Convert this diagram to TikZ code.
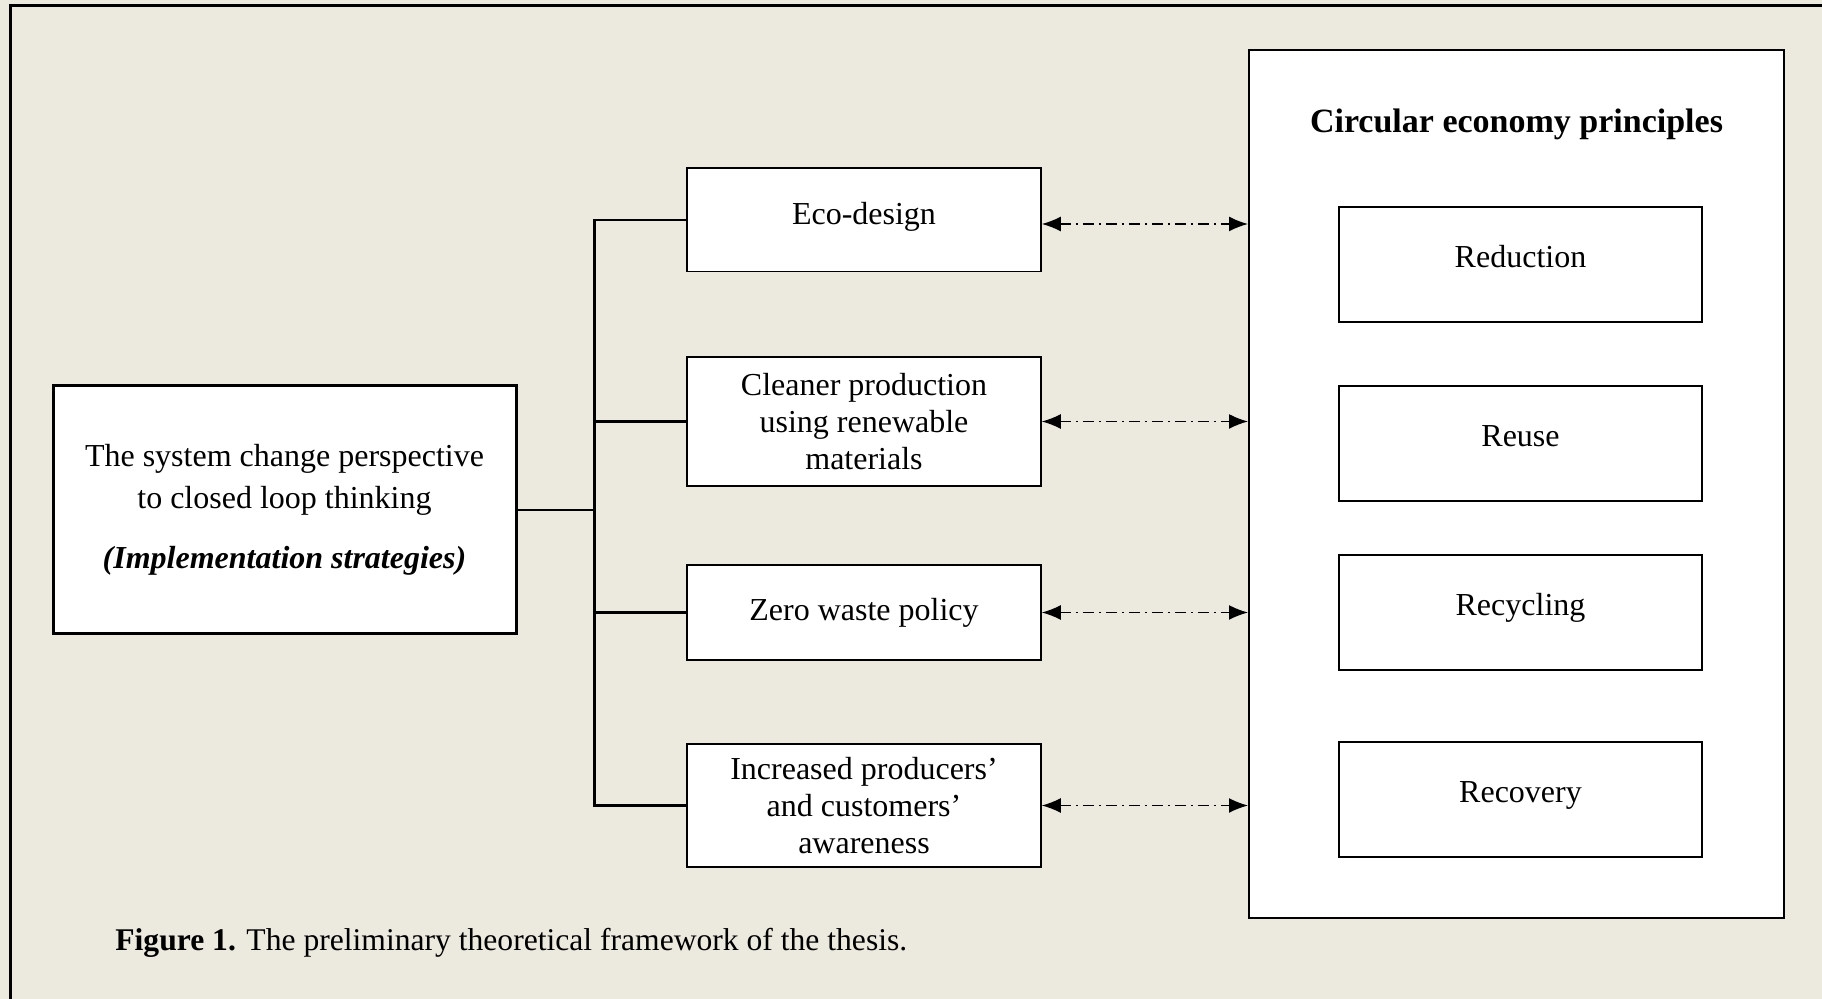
\documentclass[tikz,border=0pt]{standalone}
\usepackage{fontspec}
\setmainfont{Liberation Serif}
\usepackage{xcolor}
\usetikzlibrary{calc,arrows.meta,positioning}
\definecolor{paper}{RGB}{236,233,223}

\begin{document}
\begin{tikzpicture}[x=0.5pt,y=-0.5pt,
		box/.style={draw=black,fill=white,line width=0.75pt,align=center,inner sep=0pt,font=\fontsize{16}{18.5}\selectfont},
		midbox/.style={box,minimum width=177pt},
		cebox/.style={box,minimum width=181.5pt,minimum height=57.5pt,text height=11pt,text depth=8pt},
		link/.style={line width=1.1pt},
		dual/.style={{Latex[length=9.5pt,width=7.5pt]}-{Latex[length=9.5pt,width=7.5pt]},line width=0.8pt,dash pattern=on 5.5pt off 2.5pt on 1pt off 2.5pt}]
		\useasboundingbox (0,0) rectangle (1822,999);
		\fill[paper] (0,0) rectangle (1822,999);
		\draw[line width=1.5pt] (10,999) -- (10,6) -- (1822,6);
		\node[box,line width=1.5pt,minimum width=231.5pt,minimum height=124pt,font=\fontsize{16}{21}\selectfont] (strategy) at (284.5,510) {The system change perspective\\to closed loop thinking\\[9pt]\textbf{\textit{(Implementation strategies)}}};
		\node[midbox,minimum height=51.75pt,text height=11pt,text depth=6pt] (ecodesign) at (864,220) {Eco-design};
		\node[midbox,minimum height=64.5pt] (cleaner) at (864,421.5) {Cleaner production\\using renewable\\materials};
		\node[midbox,minimum height=47.5pt] (zerowaste) at (864,612.5) {Zero waste policy};
		\node[midbox,minimum height=61.5pt] (awareness) at (864,805.5) {Increased producers'\\and customers'\\awareness};
		\node[draw=black,fill=white,line width=1pt,minimum width=267.5pt,minimum height=434pt,inner sep=0pt] (principles) at (1516.5,484) {};
		\node[font=\fontsize{17}{20}\selectfont\bfseries] (title) at (1516.5,124) {Circular economy principles};
		\node[cebox] (reduction) at (1520.5,264.5) {Reduction};
		\node[cebox] (reuse) at (1520.5,443.5) {Reuse};
		\node[cebox] (recycling) at (1520.5,612.5) {Recycling};
		\node[cebox] (recovery) at (1520.5,799.5) {Recovery};
		\coordinate (bus) at ($(strategy.east)+(77,0)$);
		\draw[link] (strategy.east) -- (bus);
		\draw[link] (ecodesign.west) -| (bus |- awareness.west) -- (awareness.west);
		\draw[link] (cleaner.west) -- (cleaner.west -| bus);
		\draw[link] (zerowaste.west) -- (zerowaste.west -| bus);
		\draw[dual] ($(ecodesign.east)+(0,4)$) -- ($(ecodesign.east -| principles.west)+(0,4)$);
		\draw[dual] (cleaner.east) -- (cleaner.east -| principles.west);
		\draw[dual] (zerowaste.east) -- (zerowaste.east -| principles.west);
		\draw[dual] (awareness.east) -- (awareness.east -| principles.west);
		\node[anchor=west,inner sep=0pt,font=\fontsize{15.8}{18}\selectfont] (caption) at (115,943) {\textbf{Figure 1.} The preliminary theoretical framework of the thesis.};
	\end{tikzpicture}
\end{document}
